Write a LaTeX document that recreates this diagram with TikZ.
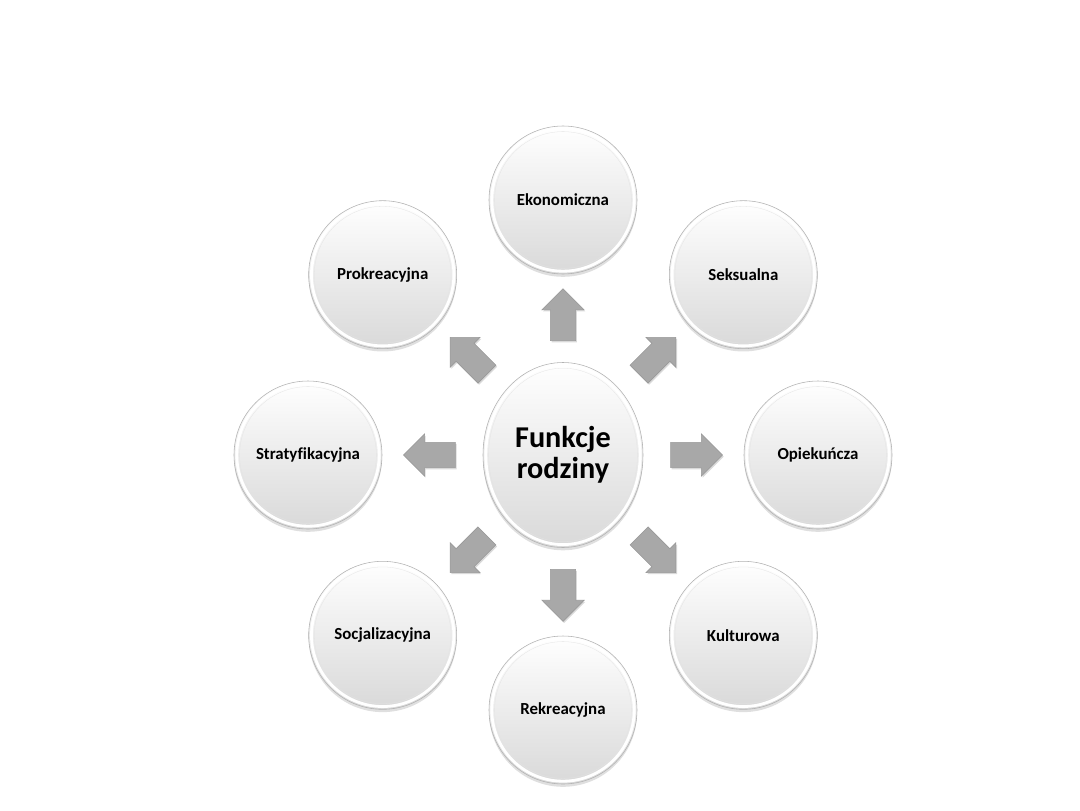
\documentclass[tikz,border=0pt]{standalone}
\usepackage{fontspec}
\setmainfont{Carlito}[Ligatures=CommonOff]
\usepackage{xcolor}
\usetikzlibrary{shapes.geometric,shapes.arrows,shadows}

\tikzset{
    funkcja/.style={circle, minimum size=3.7cm, inner sep=0pt,
        top color=white, bottom color=gray!30, draw=gray!60, thin,
        drop shadow={opacity=0.25, shadow xshift=0pt, shadow yshift=-0.07cm},
        font=\fontsize{12}{14}\selectfont\bfseries,
        path picture={
            \draw[white, line width=2pt] (path picture bounding box.center) circle (1.78cm);
            \draw[gray!22, very thin] (path picture bounding box.center) circle (1.71cm);
        }},
    srodek/.style={ellipse, minimum width=4cm, minimum height=4.625cm, inner sep=0pt,
        top color=white, bottom color=gray!30, draw=gray!60, thin, align=center,
        drop shadow={opacity=0.25, shadow xshift=0pt, shadow yshift=-0.07cm},
        font=\fontsize{21.5}{22}\selectfont\bfseries,
        path picture={
            \draw[white, line width=2pt] (path picture bounding box.center) ellipse (1.93cm and 2.24cm);
            \draw[gray!22, very thin] (path picture bounding box.center) ellipse (1.86cm and 2.17cm);
        }},
    strzalka/.style={single arrow, minimum height=1.3cm, inner sep=0.31cm,
        single arrow head extend=0.21cm, fill=gray!68, draw=gray!80, thin,
        drop shadow={opacity=0.3, shadow xshift=0.03cm, shadow yshift=-0.04cm}}
}

\begin{document}
\begin{tikzpicture}
    % Funkcje rodziny
    \useasboundingbox (-14.075,-8.875) rectangle (12.925,11.375);
    \node[srodek] (c) at (0,0) {Funkcje\\rodziny};
    \foreach \a/\t [count=\i] in {90/Ekonomiczna, 45/Seksualna, 0/Opiekuńcza, -45/Kulturowa, -90/Rekreacyjna, -135/Socjalizacyjna, 180/Stratyfikacyjna, 135/Prokreacyjna} {
        \node[strzalka, rotate=\a] (a-\i) at (\a:3.18 and 3.35) {};
        \node[funkcja] (f-\i) at (\a:6.375) {\t};
    }
\end{tikzpicture}
\end{document}
